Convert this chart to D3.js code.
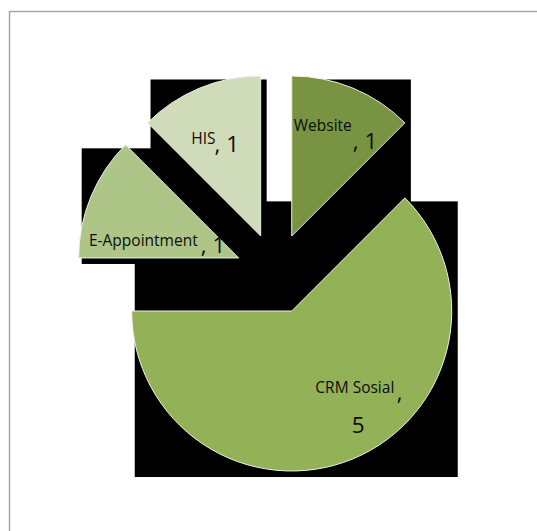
<!DOCTYPE html>
<html>
<head>
<meta charset="utf-8">
<script src="https://cdn.jsdelivr.net/npm/d3@7"></script>
<style>
  html, body { margin: 0; padding: 0; background: #fff; }
  svg { display: block; }
</style>
</head>
<body>
<svg id="chart" width="537" height="531"></svg>
<script>
// ---- data ----
const categories = ["Website", "CRM Sosial", "E-Appointment", "HIS"];
const values = [1, 5, 1, 1];
const colors = ["#789442", "#93B157", "#ADC687", "#CFDBB9"];

// ---- layout (label offsets relative to slice centroid) ----
const nameOffsets = [[-28.6, -31.4], [-7, 8.4], [-75.8, 18.4], [-38.7, -18.1]];
const valueOffsets = [[30.5, -13.1], [29.3, 48.4], [36, 26], [-15.5, -10.1]];
const commaSeparate = [false, true, false, false];
const commaOffsets = [null, [74.5, 15.1], null, null];

const W = 537, H = 531;
const cx = 276.2, cy = 273.5, R = 160, explode = 40.6;

const svg = d3.select("#chart");
svg.append("rect").attr("width", W).attr("height", H).attr("fill", "#fff");
svg.append("rect")
  .attr("x", 9.5).attr("y", 11.5)
  .attr("width", W + 20).attr("height", H + 20)
  .attr("fill", "none").attr("stroke", "#a6a6a6").attr("stroke-width", 1.5);

const data = categories.map((c, i) => ({ name: c, value: values[i], color: colors[i] }));
const pie = d3.pie().value(d => d.value).sort(null).startAngle(0).endAngle(2 * Math.PI);
const arcs = pie(data);
const arc = d3.arc().innerRadius(0).outerRadius(R);

arcs.forEach(a => {
  const mid = (a.startAngle + a.endAngle) / 2;
  a.ox = cx + Math.sin(mid) * explode;
  a.oy = cy - Math.cos(mid) * explode;
  // bounding box of slice geometry
  const pts = [[0, 0]];
  const n = 180;
  for (let k = 0; k <= n; k++) {
    const t = a.startAngle + (a.endAngle - a.startAngle) * k / n;
    pts.push([Math.sin(t) * R, -Math.cos(t) * R]);
  }
  a.x0 = a.ox + d3.min(pts, p => p[0]);
  a.x1 = a.ox + d3.max(pts, p => p[0]);
  a.y0 = a.oy + d3.min(pts, p => p[1]);
  a.y1 = a.oy + d3.max(pts, p => p[1]);
  const c = arc.centroid(a);
  a.cxp = a.ox + c[0];
  a.cyp = a.oy + c[1];
});

// shadows (black boxes) first
svg.append("g").selectAll("rect").data(arcs).join("rect")
  .attr("x", d => d.x0 + 3)
  .attr("y", d => d.y0 + 3.5)
  .attr("width", d => d.x1 - d.x0 + 3)
  .attr("height", d => d.y1 - d.y0 + 2.5)
  .attr("fill", "#000");

// slices
svg.append("g").selectAll("path").data(arcs).join("path")
  .attr("transform", d => `translate(${d.ox},${d.oy})`)
  .attr("d", arc)
  .attr("fill", d => d.data.color)
  .attr("stroke", "#eef2e6")
  .attr("stroke-width", 1);

// labels
const lg = svg.append("g").attr("font-family", "'Open Sans', 'DejaVu Sans', sans-serif").attr("fill", "#0d0d0d");
arcs.forEach((a, i) => {
  lg.append("text")
    .attr("x", a.cxp + nameOffsets[i][0])
    .attr("y", a.cyp + nameOffsets[i][1])
    .attr("font-size", 15.5)
    .text(a.data.name);
  if (commaSeparate[i]) {
    lg.append("text")
      .attr("x", a.cxp + commaOffsets[i][0])
      .attr("y", a.cyp + commaOffsets[i][1])
      .attr("font-size", 22)
      .text(",");
    lg.append("text")
      .attr("x", a.cxp + valueOffsets[i][0])
      .attr("y", a.cyp + valueOffsets[i][1])
      .attr("font-size", 22.5)
      .text(String(a.data.value));
  } else {
    lg.append("text")
      .attr("x", a.cxp + valueOffsets[i][0])
      .attr("y", a.cyp + valueOffsets[i][1])
      .attr("font-size", 22.5)
      .text(", " + a.data.value);
  }
});
</script>
</body>
</html>
